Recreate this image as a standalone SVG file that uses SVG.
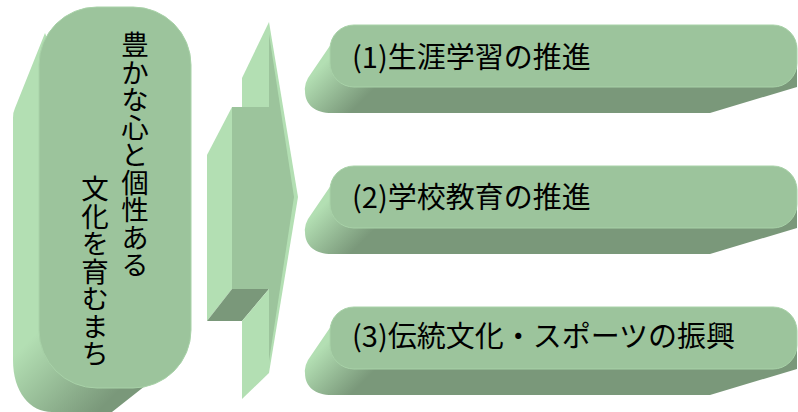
<svg xmlns="http://www.w3.org/2000/svg" width="798" height="412" viewBox="0 0 798 412">
<defs>
<linearGradient id="gLeft" gradientUnits="userSpaceOnUse" x1="40" y1="330" x2="110" y2="400">
<stop offset="0" stop-color="#b3dfb3"/><stop offset="1" stop-color="#7a987a"/>
</linearGradient>
<linearGradient id="gBox" gradientUnits="userSpaceOnUse" x1="312" y1="50" x2="350" y2="88">
<stop offset="0" stop-color="#b3dfb3"/><stop offset="1" stop-color="#7a987a"/>
</linearGradient>
</defs>
<style>
.front{fill:#9cc49c;stroke:#a8d2a8;stroke-width:1}
.light{fill:#b3dfb3}
.dark{fill:#7a987a}
.lbl{font-family:"Noto Sans CJK JP","Noto Sans CJK SC",sans-serif;font-size:29px;fill:#000;dominant-baseline:central}
.vt{font-family:"Noto Sans CJK JP","Noto Sans CJK SC",sans-serif;font-size:27.5px;fill:#000;writing-mode:vertical-rl}
</style>
<g id="main">
<path d="M45,33 L15,108 Q13,112 13,118 L13,360 C13,392 30,412 52,412 L112,412 L150,382 L150,300 Z" fill="url(#gLeft)"/>
<rect class="front" x="39" y="7" width="152" height="381" rx="58" ry="58"/>
<text class="vt" x="135" y="31">豊かな心と個性ある</text>
<text class="vt" x="95" y="175">文化を育むまち</text>
</g>
<g id="connectors">
<polygon class="light" points="242,78 269,22 269,107 242,107"/>
<polygon class="light" points="232,107 207,155 207,321 232,289"/>
<polygon class="dark" points="207,321 242,321 269,289 232,289"/>
<polygon class="light" points="242,321 269,289 269,373 242,399"/>
<rect x="232" y="107" width="37" height="182" fill="#9cc49c"/>
<polygon class="light" points="269,22 298,197 269,373"/>
<polygon points="269,34 294,197 269,361" fill="#9cc49c"/>
</g>
<g id="box1" transform="translate(0,25)">
<path d="M342,3 L308,53 Q304,60 305,66 C305,80 315,88 332,88 L710,88 L797,62 L797,20 Z" fill="url(#gBox)"/>
<rect class="front" x="330" y="0" width="467" height="62" rx="24" ry="24"/>
<text class="lbl" x="352" y="30">(1)生涯学習の推進</text>
</g>
<g id="box2" transform="translate(0,166)">
<path d="M342,3 L308,53 Q304,60 305,66 C305,80 315,88 332,88 L710,88 L797,62 L797,20 Z" fill="url(#gBox)"/>
<rect class="front" x="330" y="0" width="467" height="62" rx="24" ry="24"/>
<text class="lbl" x="352" y="29">(2)学校教育の推進</text>
</g>
<g id="box3" transform="translate(0,307)">
<path d="M342,3 L308,53 Q304,60 305,66 C305,80 315,88 332,88 L710,88 L797,62 L797,20 Z" fill="url(#gBox)"/>
<rect class="front" x="330" y="0" width="467" height="62" rx="24" ry="24"/>
<text class="lbl" x="352" y="27">(3)伝統文化・スポーツの振興</text>
</g>
</svg>
